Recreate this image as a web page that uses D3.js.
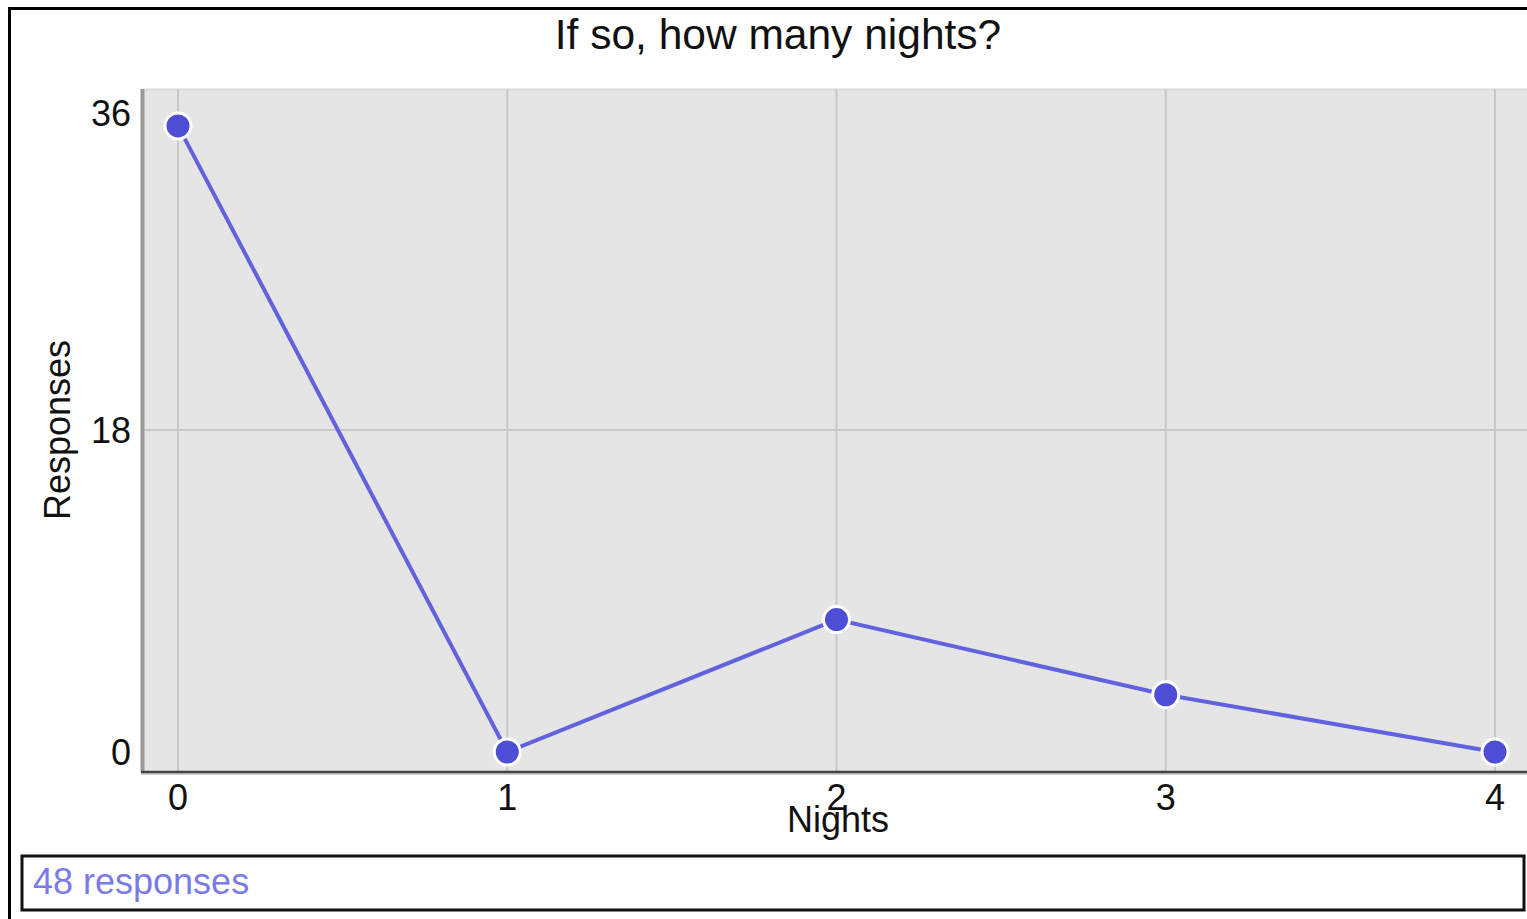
<!DOCTYPE html>
<html>
<head>
<meta charset="utf-8">
<script src="https://cdn.jsdelivr.net/npm/d3@7"></script>
<style>
  html, body { margin: 0; padding: 0; background: #fff; overflow: hidden; }
  svg { display: block; font-family: "Liberation Sans", Arial, sans-serif; }
</style>
</head>
<body>
<svg id="chart" width="1527" height="919"></svg>
<script>
// ---- data ----
const title = "If so, how many nights?";
const nights = [0, 1, 2, 3, 4];
const responses = [35, 0, 7.4, 3.2, 0];
const yTicks = [0, 18, 36];
const xLabel = "Nights";
const yLabel = "Responses";
const footer = "48 responses";

const svg = d3.select("#chart");

// outer frame
svg.append("rect").attr("x", 9.5).attr("y", 8.5).attr("width", 1700).attr("height", 1100)
  .attr("fill", "#fff").attr("stroke", "#000").attr("stroke-width", 3);

// plot area
const plot = { left: 143, top: 89, right: 1540, bottom: 772 };
svg.append("rect").attr("x", plot.left).attr("y", plot.top)
  .attr("width", plot.right - plot.left).attr("height", plot.bottom - plot.top)
  .attr("fill", "#e5e5e5");
svg.append("line").attr("x1", plot.left).attr("x2", plot.right)
  .attr("y1", plot.top + 0.5).attr("y2", plot.top + 0.5)
  .attr("stroke", "#dadada").attr("stroke-width", 2);

const x = d3.scaleLinear().domain([0, 4]).range([178, 1495]);
const y = d3.scaleLinear().domain([0, 36]).range([752, 108]);

// vertical grid
svg.append("g").selectAll("line").data(nights).join("line")
  .attr("x1", d => x(d)).attr("x2", d => x(d))
  .attr("y1", plot.top).attr("y2", plot.bottom)
  .attr("stroke", "#c8c8c8").attr("stroke-width", 2);
// horizontal grid (middle)
svg.append("g").selectAll("line").data([18]).join("line")
  .attr("x1", plot.left).attr("x2", plot.right)
  .attr("y1", d => y(d)).attr("y2", d => y(d))
  .attr("stroke", "#c8c8c8").attr("stroke-width", 2);

// axes lines
svg.append("line").attr("x1", plot.left - 0.5).attr("x2", plot.left - 0.5)
  .attr("y1", plot.top).attr("y2", plot.bottom)
  .attr("stroke", "#9a9a9a").attr("stroke-width", 4);
svg.append("line").attr("x1", plot.left - 2).attr("x2", plot.right)
  .attr("y1", plot.bottom + 2).attr("y2", plot.bottom + 2)
  .attr("stroke", "#d0d0d0").attr("stroke-width", 2);
svg.append("line").attr("x1", plot.left - 2).attr("x2", plot.right)
  .attr("y1", plot.bottom).attr("y2", plot.bottom)
  .attr("stroke", "#444").attr("stroke-width", 2.5);

// y tick labels
svg.append("g").selectAll("text").data(yTicks).join("text")
  .attr("x", 131).attr("y", d => y(d) + (d === 36 ? 5 : 0))
  .attr("dy", "0.36em").attr("text-anchor", "end")
  .attr("font-size", 36).attr("fill", "#111").text(d => d);

// x tick labels
svg.append("g").selectAll("text").data(nights).join("text")
  .attr("x", d => x(d)).attr("y", 810)
  .attr("text-anchor", "middle")
  .attr("font-size", 36).attr("fill", "#111").text(d => d);

// axis titles
svg.append("text").attr("x", 838).attr("y", 832).attr("text-anchor", "middle")
  .attr("font-size", 36).attr("fill", "#111").text(xLabel);
svg.append("text").attr("transform", "translate(70,430) rotate(-90)")
  .attr("text-anchor", "middle").attr("font-size", 36).attr("fill", "#111").text(yLabel);

// title
svg.append("text").attr("x", 778).attr("y", 49).attr("text-anchor", "middle")
  .attr("font-size", 42.5).attr("fill", "#111").text(title);

// line + points
const pts = nights.map((n, i) => [n, responses[i]]);
svg.append("path").datum(pts)
  .attr("d", d3.line().x(d => x(d[0])).y(d => y(d[1])))
  .attr("fill", "none").attr("stroke", "#6262de").attr("stroke-width", 4);
svg.append("g").selectAll("circle").data(pts).join("circle")
  .attr("cx", d => x(d[0])).attr("cy", d => y(d[1])).attr("r", 13)
  .attr("fill", "#4d4dd6").attr("stroke", "#fff").attr("stroke-width", 3);

// footer box
svg.append("rect").attr("x", 22).attr("y", 856).attr("width", 1502).attr("height", 54)
  .attr("fill", "#fff").attr("stroke", "#111").attr("stroke-width", 3);
svg.append("text").attr("x", 33).attr("y", 894)
  .attr("font-size", 36).attr("fill", "#7b7be8").text(footer);
</script>
</body>
</html>
